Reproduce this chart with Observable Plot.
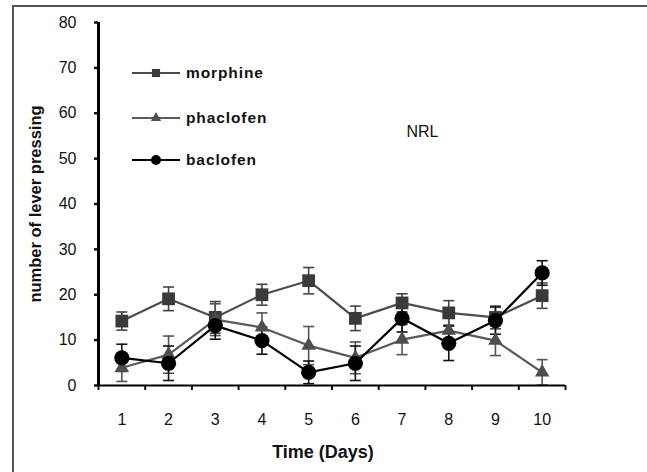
<!DOCTYPE html>
<html>
<head>
<meta charset="utf-8">
<script src="https://cdn.jsdelivr.net/npm/d3@7"></script>
<script src="https://cdn.jsdelivr.net/npm/@observablehq/plot@0.6"></script>
<style>
  html, body { margin: 0; padding: 0; background: #fff; }
  #wrap { position: relative; width: 647px; height: 472px; overflow: hidden; font-family: Arial, "Liberation Sans", sans-serif; }
  #frame { position: absolute; left: 12px; top: 5px; width: 700px; height: 500px; border-top: 2px solid #555; border-left: 2px solid #555; box-sizing: border-box; }
  #chart { position: absolute; left: 0; top: 0; }
  #legend { position: absolute; left: 130px; top: 0; }
  .entry { position: absolute; left: 0; display: flex; align-items: center; white-space: nowrap; }
  .entry span { font-weight: bold; font-size: 15.5px; letter-spacing: 0.9px; color: #111; margin-left: 6px; }
</style>
</head>
<body>
<div id="wrap">
  <div id="frame"></div>
  <div id="chart"></div>
  <div id="legend"></div>
</div>
<script>
const days = [1, 2, 3, 4, 5, 6, 7, 8, 9, 10];
const morphine = [14.2, 19.1, 15.0, 20.0, 23.1, 14.8, 18.2, 16.0, 15.0, 19.8];
const morphineErr = [2.0, 2.6, 3.5, 2.3, 2.9, 2.7, 2.0, 2.7, 2.5, 2.8];
const phaclofen = [3.9, 6.8, 14.5, 12.8, 8.8, 6.1, 10.1, 12.1, 9.9, 2.9];
const phaclofenErr = [3.0, 4.1, 3.5, 3.2, 4.2, 3.5, 3.3, 2.8, 3.3, 2.8];
const baclofen = [6.1, 4.9, 13.2, 9.9, 2.9, 4.9, 14.8, 9.3, 14.3, 24.8];
const baclofenErr = [3.0, 3.8, 3.0, 3.0, 2.5, 3.8, 3.0, 3.8, 3.0, 2.7];
const yTicks = [0, 10, 20, 30, 40, 50, 60, 70, 80];
const seriesNames = ["morphine", "phaclofen", "baclofen"];
const xTitle = "Time (Days)";
const yTitle = "number of lever pressing";
const note = "NRL";

const styles = {
  morphine: {line: "#4d4d4d", fill: "#3a3a3a", err: "#444", symbol: "square", r: 7.2},
  phaclofen: {line: "#5a5a5a", fill: "#4e4e4e", err: "#555", symbol: "triangle", r: 5.4},
  baclofen: {line: "#000", fill: "#000", err: "#111", symbol: "circle", r: 7.6}
};

const valuesBy = {morphine, phaclofen, baclofen};
const errBy = {morphine: morphineErr, phaclofen: phaclofenErr, baclofen: baclofenErr};
const table = seriesNames.flatMap(s => days.map((d, i) => ({
  series: s, day: d, value: valuesBy[s][i], err: errBy[s][i]
})));

// horizontal cap symbol for error bars
const capSymbol = {
  draw(context, size) {
    const w = Math.sqrt(size / Math.PI);
    context.moveTo(-w, 0);
    context.lineTo(w, 0);
  }
};

const bounds = days.map(d => d - 0.5).concat([days[days.length - 1] + 0.5]);

const marks = [];
for (const s of seriesNames) {
  const data = table.filter(d => d.series === s);
  const st = styles[s];
  marks.push(
    Plot.ruleX(data, {x: "day", y1: d => d.value - d.err, y2: d => d.value + d.err, stroke: st.err, strokeWidth: 1.6}),
    Plot.dot(data, {x: "day", y: d => d.value + d.err, symbol: capSymbol, r: 5.5, stroke: st.err, strokeWidth: 1.6, fill: "none"}),
    Plot.dot(data, {x: "day", y: d => d.value - d.err, symbol: capSymbol, r: 5.5, stroke: st.err, strokeWidth: 1.6, fill: "none"})
  );
}
for (const s of seriesNames) {
  const data = table.filter(d => d.series === s);
  const st = styles[s];
  marks.push(
    Plot.line(data, {x: "day", y: "value", stroke: st.line, strokeWidth: 2.2}),
    Plot.dot(data, {x: "day", y: "value", symbol: st.symbol, r: st.r, fill: st.fill, stroke: "none"})
  );
}

const plot = Plot.plot({
  width: 647,
  height: 472,
  marginLeft: 98,
  marginRight: 82,
  marginTop: 22,
  marginBottom: 87,
  style: {fontFamily: "Arial, 'Liberation Sans', sans-serif", background: "transparent", color: "#111"},
  x: {domain: [0.5, 10.5]},
  y: {domain: [0, 80]},
  marks: [
    Plot.axisY({ticks: yTicks, tickSize: 4, tickFormat: () => "", label: null, strokeWidth: 2.5}),
    Plot.text(yTicks, {y: d => d, frameAnchor: "left", dx: -22, textAnchor: "end", fontSize: 16, fill: "#111", text: d => String(d)}),
    Plot.axisX({ticks: bounds, tickFormat: () => "", tickSize: 5, label: null, strokeWidth: 2}),
    Plot.axisX({ticks: days, tickSize: 0, tickPadding: 28, fontSize: 16, label: null, tickFormat: d => String(d)}),
    Plot.text([yTitle], {frameAnchor: "left", dx: -63, rotate: -90, textAnchor: "middle", fontSize: 16.5, fontWeight: "bold", fill: "#111"}),
    Plot.text([xTitle], {frameAnchor: "bottom", dy: 72, dx: -9, fontSize: 18, fontWeight: "bold", fill: "#111", letterSpacing: "0.5px"}),
    Plot.text([note], {frameAnchor: "top-left", dx: 308, dy: 103, fontSize: 16, fill: "#111", textAnchor: "start"}),
    ...marks,
    Plot.ruleX([0.5], {stroke: "#000", strokeWidth: 3}),
    Plot.ruleY([0], {stroke: "#000", strokeWidth: 2.2})
  ]
});
document.getElementById("chart").appendChild(plot);

// legend
const legendTops = {morphine: 73, phaclofen: 118, baclofen: 160};
const legendSizes = {morphine: 4.6, phaclofen: 3.8, baclofen: 5};
const leg = d3.select("#legend");
for (const s of seriesNames) {
  const st = styles[s];
  const row = leg.append("div").attr("class", "entry").style("top", (legendTops[s] - 10) + "px");
  const svg = row.append("svg").attr("width", 50).attr("height", 20);
  svg.append("line").attr("x1", 2).attr("x2", 50).attr("y1", 10).attr("y2", 10).attr("stroke", st.line).attr("stroke-width", 2);
  const sym = {square: d3.symbolSquare, triangle: d3.symbolTriangle, circle: d3.symbolCircle}[st.symbol];
  const r = legendSizes[s];
  svg.append("path").attr("transform", "translate(26,10)").attr("d", d3.symbol(sym, Math.PI * r * r)()).attr("fill", st.fill);
  row.append("span").text(s);
}
</script>
</body>
</html>
